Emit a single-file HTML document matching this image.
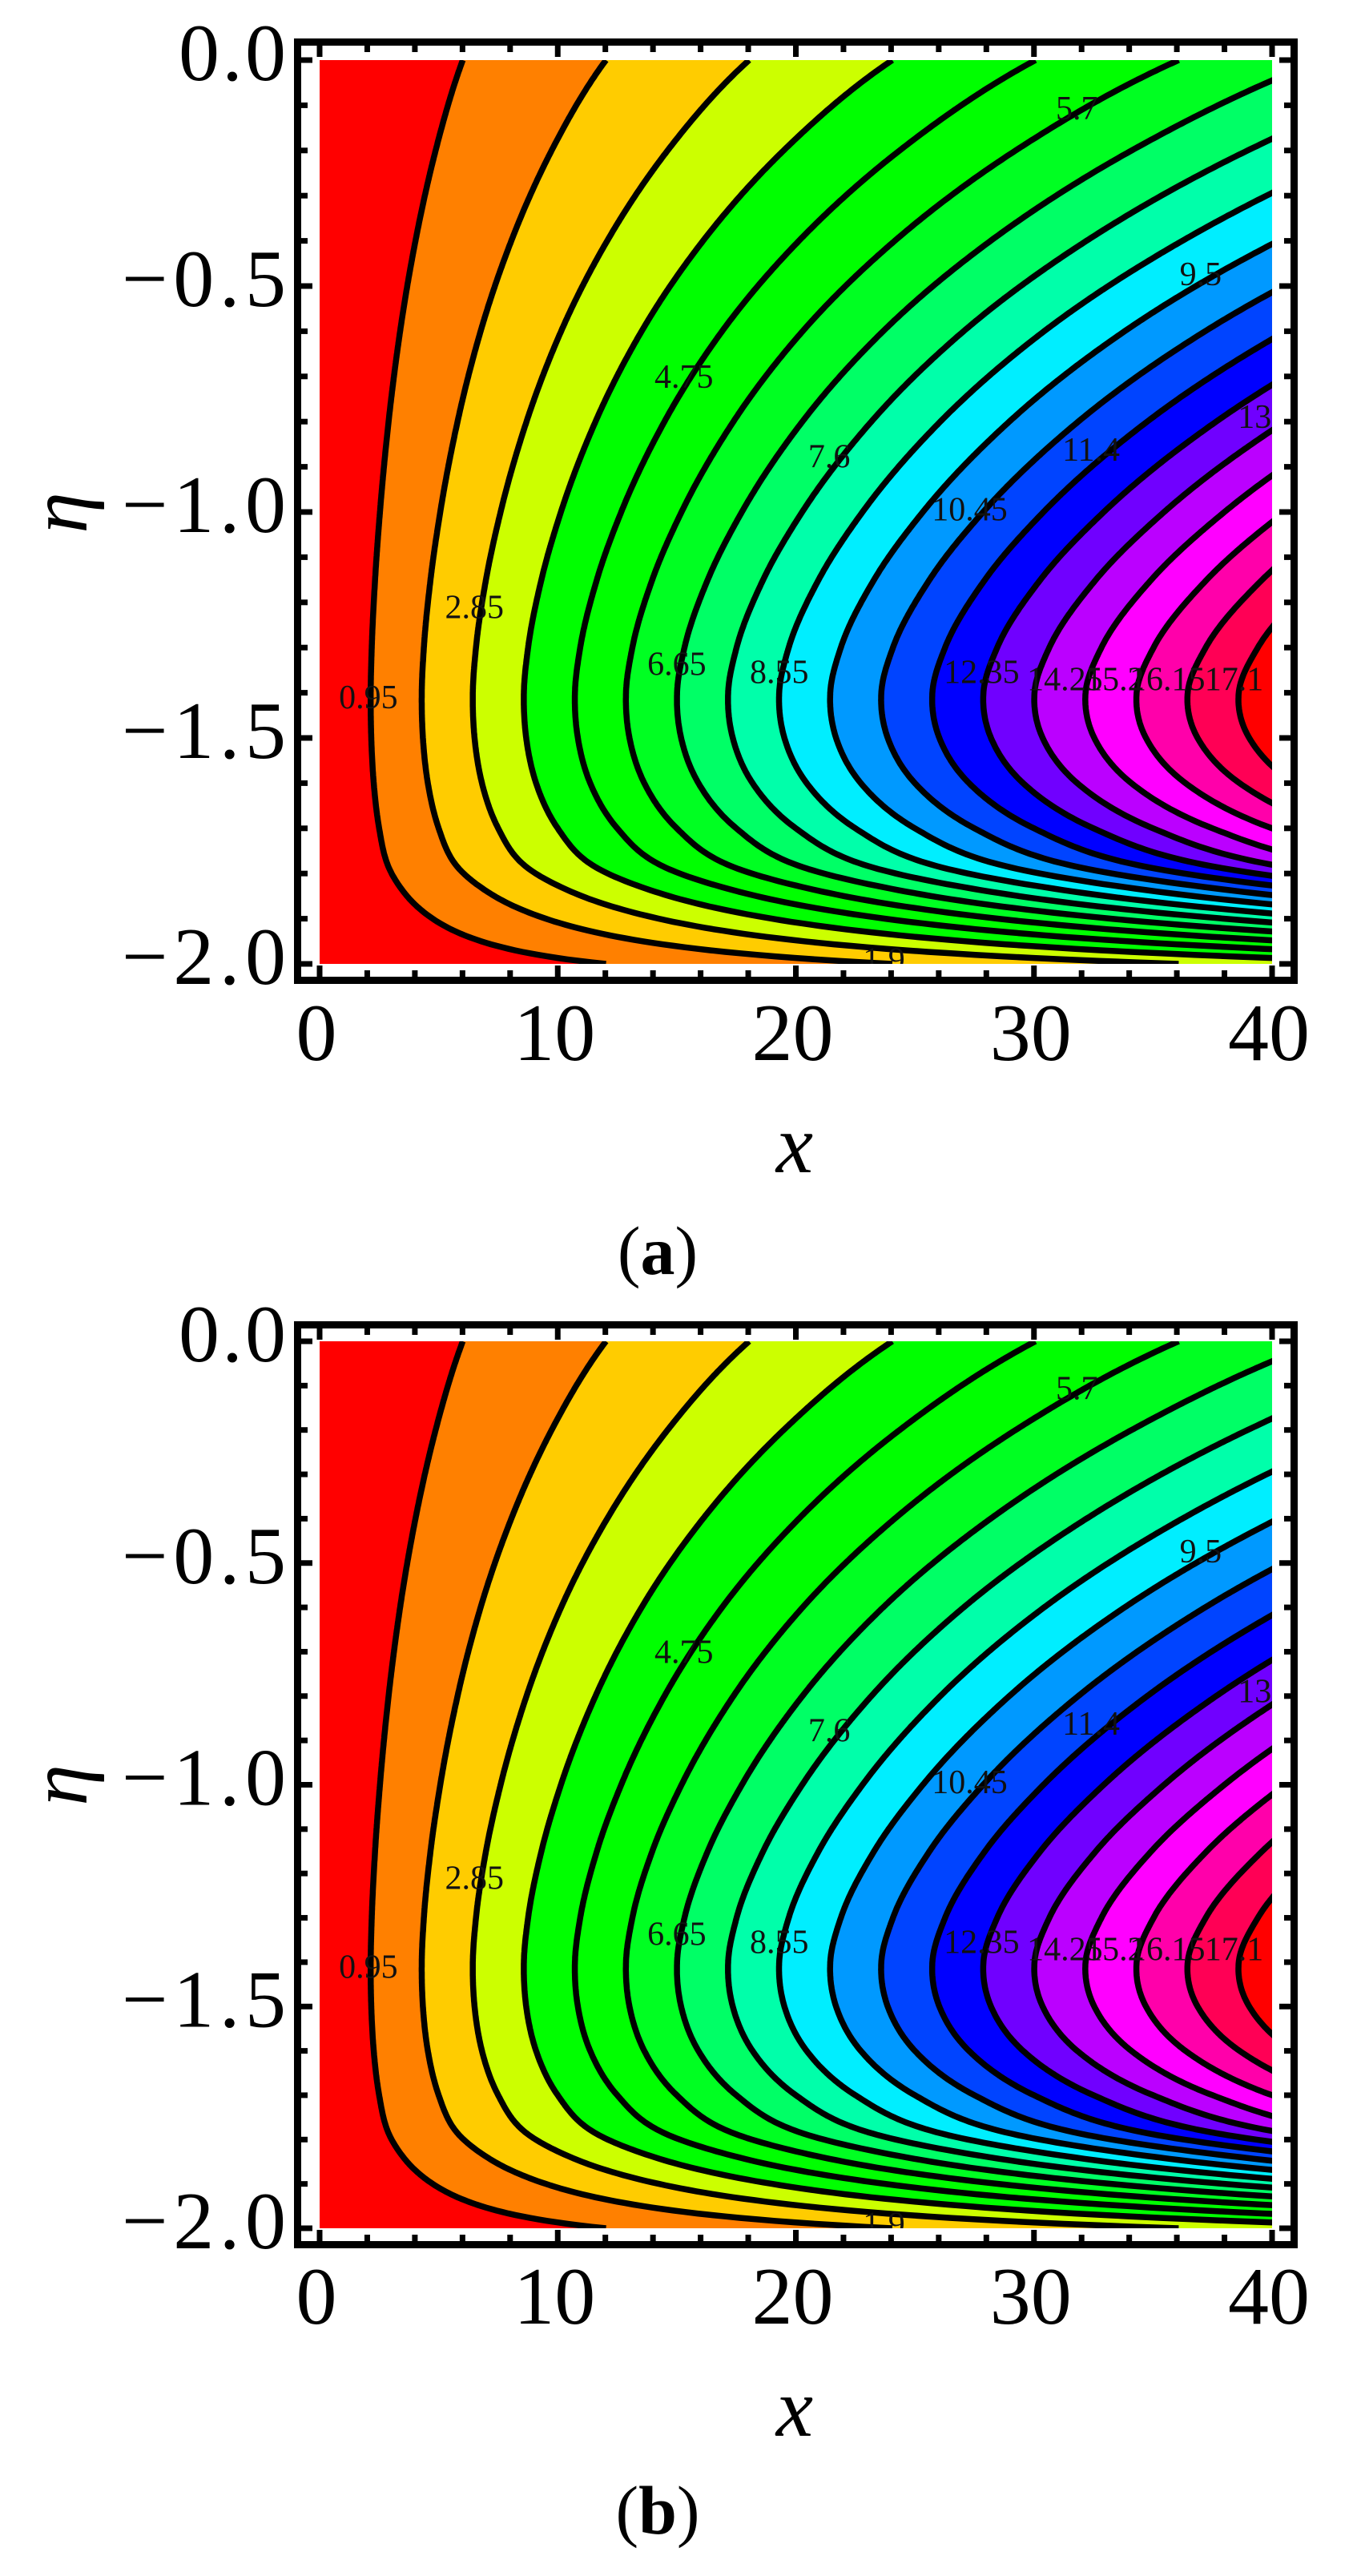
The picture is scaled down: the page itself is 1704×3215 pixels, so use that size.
<!DOCTYPE html>
<html>
<head>
<meta charset="utf-8">
<style>
html,body{margin:0;padding:0;background:#fff;}
svg{display:block;}
text{font-family:"Liberation Serif",serif;}
</style>
</head>
<body>
<svg id="fig" width="1704" height="3215" viewBox="0 0 1704 3215" xmlns="http://www.w3.org/2000/svg"></svg>
<script>
// ---- chart data ----
const levels = [0.95,1.9,2.85,3.8,4.75,5.7,6.65,7.6,8.55,9.5,10.45,11.4,12.35,13.3,14.25,15.2,16.15,17.1];
const etaSamples = [0,-0.2,-0.4,-0.6,-0.8,-1.0,-1.15,-1.3,-1.4,-1.5,-1.6,-1.7,-1.78,-1.84,-1.9,-1.95,-2.0];
const gSamples = [0.158,0.195,0.236,0.281,0.328,0.375,0.408,0.434,0.443,0.438,0.418,0.38,0.333,0.27,0.20,0.14,0.079];
const bandColors = ["#ff0000","#ff8000","#ffcc00","#ccff00","#00ff00","#00ff00","#00ff22","#00ff66","#00ffaa","#00eeff","#0099ff","#0044ff","#0000ff","#7000ff","#bb00ff","#ff00ff","#ff00aa","#ff0055","#ff0000"];
const xTicks = [0,10,20,30,40];
const xTickLabels = ["0","10","20","30","40"];
const yTicks = [0,-0.5,-1,-1.5,-2];
const yTickLabels = ["0.0","\u22120.5","\u22121.0","\u22121.5","\u22122.0"];
const contourLabelText = ["0.95","2.85","4.75","5.7","6.65","7.6","8.55","9.5","10.45","11.4","12.35","13.3","14.25","15.2","16.15","17.1","1.9"];
const contourLabelX = [2.05,6.5,15.3,31.8,15.0,21.4,19.3,37.0,27.3,32.4,27.8,39.8,31.3,33.4,35.6,38.4,23.7];
const contourLabelEta = [-1.41,-1.21,-0.70,-0.106,-1.336,-0.877,-1.354,-0.473,-0.994,-0.862,-1.354,-0.789,-1.37,-1.37,-1.37,-1.37,-1.99];

const NS="http://www.w3.org/2000/svg";
const svg=document.getElementById('fig');
function mk(tag,attrs,parent){const e=document.createElementNS(NS,tag);for(const k in attrs)e.setAttribute(k,attrs[k]);(parent||svg).appendChild(e);return e;}

const T=etaSamples.map(v=>-v);
const d=[];for(let i=0;i<T.length-1;i++)d.push((gSamples[i+1]-gSamples[i])/(T[i+1]-T[i]));
const m=[];for(let i=0;i<T.length;i++){
  if(i===0)m.push(d[0]);else if(i===T.length-1)m.push(d[d.length-1]);
  else{const h0=T[i]-T[i-1],h1=T[i+1]-T[i];m.push((d[i-1]*h1+d[i]*h0)/(h0+h1));}
}
function gAt(eta){const t=-eta;let i=0;while(i<T.length-2&&t>T[i+1])i++;const h=T[i+1]-T[i];const s=(t-T[i])/h;
const h00=2*s*s*s-3*s*s+1,h10=s*s*s-2*s*s+s,h01=-2*s*s*s+3*s*s,h11=s*s*s-s*s;
return h00*gSamples[i]+h10*h*m[i]+h01*gSamples[i+1]+h11*h*m[i+1];}

function drawPanel(id,dataTop,dataBot,frameTop,frameBot,tickLabelBase,xLabelBase,etaCy,capBase,cap){
  const L=399,R=1588;
  const X=v=>L+(v/40)*(R-L);
  const Y=v=>dataTop+(-v/2)*(dataBot-dataTop);
  const g=mk('g',{});
  
  
  const cp=mk('clipPath',{id:'clip'+id},g);
  mk('rect',{x:L,y:dataTop,width:R-L,height:dataBot-dataTop},cp);
  const plot=mk('g',{'clip-path':'url(#clip'+id+')'},g);
  
  
  const base=mk('rect',{x:L,y:dataTop,width:R-L,height:dataBot-dataTop,fill:bandColors[0]},plot);
  
  
  const N=600;
  const etas=[];for(let i=0;i<=N;i++)etas.push(-2*i/N);
  levels.forEach((c,k)=>{
    let pts=etas.map(e=>{const xv=Math.min(c/gAt(e),41);return X(xv).toFixed(1)+','+Y(e).toFixed(1);});
    pts.push(X(41)+','+Y(-2));pts.push(X(41)+','+Y(0));
    const p=mk('polygon',{points:pts.join(' '),fill:bandColors[k+1]},plot);
    
    
  });
  levels.forEach((c,k)=>{
    const pts=etas.map(e=>{const xv=Math.min(c/gAt(e),60);return X(xv).toFixed(1)+','+Y(e).toFixed(1);});
    const pl=mk('polyline',{points:pts.join(' '),fill:'none',stroke:'#000','stroke-width':7.5,'stroke-linejoin':'round'},plot);
    
    
  });
  contourLabelText.forEach((t,i)=>{
    const tx=mk('text',{x:X(contourLabelX[i]),y:Y(contourLabelEta[i])+14,'font-size':42,'text-anchor':'middle',fill:'#111'},plot);
    tx.textContent=t;
    
    
  });
  const fr=mk('rect',{x:371.5,y:frameTop+4.5,width:1244,height:frameBot-frameTop-9,fill:'none',stroke:'#000','stroke-width':9},g);
  
  
  const ti=frameTop+9, bi=frameBot-9, li=376, ri=1611;
  for(let v=0;v<=40;v+=2){
    const major=v%10===0, len=major?14:8;
    mk('line',{x1:X(v),y1:ti,x2:X(v),y2:ti+len,stroke:'#000','stroke-width':7},g);
    mk('line',{x1:X(v),y1:bi,x2:X(v),y2:bi-len,stroke:'#000','stroke-width':7},g);
  }
  for(let j=0;j<=20;j++){
    const v=-j/10, major=j%5===0, len=major?14:8;
    mk('line',{x1:li,y1:Y(v),x2:li+len,y2:Y(v),stroke:'#000','stroke-width':7},g);
    mk('line',{x1:ri,y1:Y(v),x2:ri-len,y2:Y(v),stroke:'#000','stroke-width':7},g);
  }
  xTicks.forEach((v,i)=>{
    const t=mk('text',{x:X(v)-4,y:tickLabelBase,'font-size':102,'text-anchor':'middle'},g);
    t.textContent=xTickLabels[i];
    
    
  });
  yTicks.forEach((v,i)=>{
    const lab=yTickLabels[i];
    const len=lab.length===3?134:205;
    const t=mk('text',{x:357-len,y:Y(v)+25,'font-size':102,textLength:len,lengthAdjust:'spacing'},g);
    t.textContent=lab;
    
    
  });
  const xl=mk('text',{x:992,y:xLabelBase,'font-size':104,'font-style':'italic','text-anchor':'middle'},g);
  xl.textContent='x';
  
  
  const yl=mk('text',{x:0,y:0,'font-size':104,'font-style':'italic','text-anchor':'middle',transform:'translate(108,'+etaCy+') rotate(-90)'},g);
  yl.textContent='\u03b7';
  
  
  const cl=mk('text',{x:821,y:capBase,'font-size':86,'text-anchor':'middle'},g);
  cl.innerHTML='(<tspan font-weight="bold">'+cap+'</tspan>)';
  
  
}
drawPanel('a',75,1203,48,1228,1323,1463,640,1590,'a');
drawPanel('b',1674,2781,1649,2806,2900,3040,2228,3162,'b');
</script>
</body>
</html>
